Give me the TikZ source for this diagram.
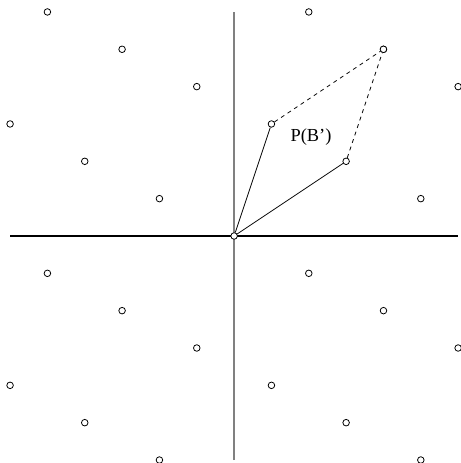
\documentclass[tikz,border=0pt]{standalone}
\usepackage{fontspec}
\setmainfont{Liberation Serif}
\begin{document}
\begin{tikzpicture}[
    % Styles
    lpt/.style={
      circle,
      draw=black,
      fill=white,
      inner sep=0pt,
      minimum size=5pt,
      line width=0.6pt,
    },
    axis/.style={line width=0.9pt},
    basis/.style={line width=0.6pt},
  ]
  \useasboundingbox (-6.27,-6.08) rectangle (6.054,6.32);
  \draw[axis] (-6,0) -- (6,0);
  \draw[axis, line width=1.6pt, gray] (0,-6) -- (0,6);
  \foreach \x/\y [count=\i] in {-5/6, 2/6, -3/5, 4/5, -1/4, 6/4, -6/3,
      -4/2, -2/1, 5/1, -5/-1, 2/-1, -3/-2, 4/-2, -1/-3, 6/-3,
      -6/-4, 1/-4, -4/-5, 3/-5, -2/-6, 5/-6}
    \node[lpt] (p\i) at (\x,\y) {};
  \node[lpt] (o) at (0,0) {};
  \node[lpt] (b1) at (3,2) {};
  \node[lpt] (b2) at (1,3) {};
  \node[lpt] (b12) at (4,5) {};
  \draw[basis] (o) -- (b1);
  \draw[basis] (o) -- (b2);
  \draw[basis, dashed] (b2) -- (b12);
  \draw[basis, dashed] (b1) -- (b12);
  \node[font=\fontsize{14}{16}\selectfont] (lbl) at (2.06,2.64) {P(B')};
\end{tikzpicture}
\end{document}
